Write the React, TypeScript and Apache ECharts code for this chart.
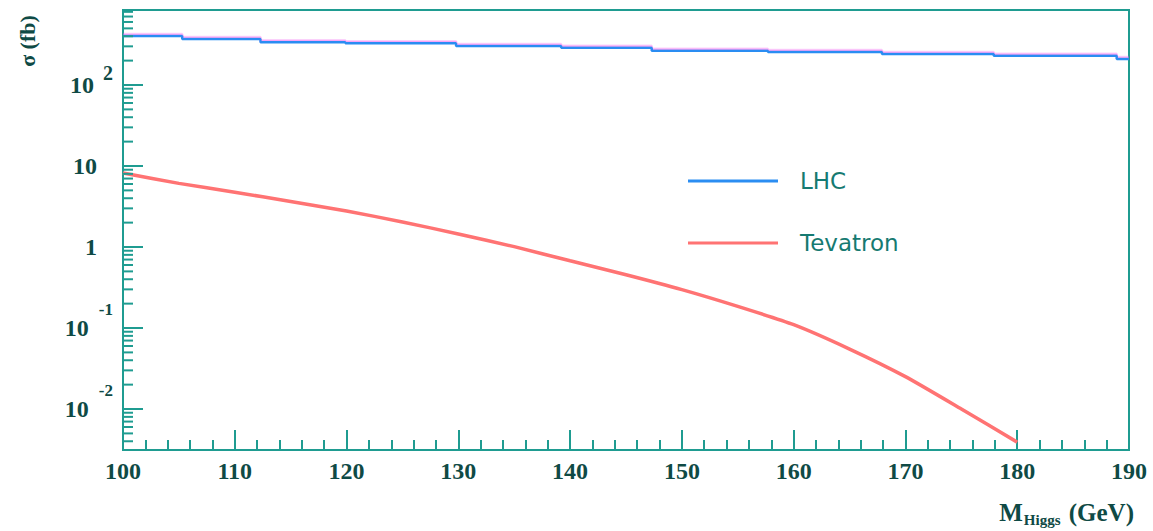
import React, { useEffect, useRef } from "react";
import * as echarts from "echarts";

// ---- data ----
const lhcMass = [100, 105.3, 112.3, 119.9, 129.8, 139.2, 147.3, 157.7, 167.9, 177.9, 188.9, 190];
const lhcSigma = [403, 370, 336, 327, 303, 289, 265, 255, 241, 230, 209, 209];

const tevMass = [100, 105, 110, 115, 120, 125, 130, 135, 140, 145, 150, 155, 160, 165, 170, 175, 180];
const tevSigma = [8.2, 6.1, 4.75, 3.65, 2.78, 2.04, 1.45, 1.01, 0.676, 0.455, 0.298, 0.185, 0.11, 0.055, 0.0251, 0.01, 0.0039];

const yMajorTicks = [0.01, 0.1, 1, 10, 100];
const yMinorTicks = [
  0.004, 0.005, 0.006, 0.007, 0.008, 0.009,
  0.02, 0.03, 0.04, 0.05, 0.06, 0.07, 0.08, 0.09,
  0.2, 0.3, 0.4, 0.5, 0.6, 0.7, 0.8, 0.9,
  2, 3, 4, 5, 6, 7, 8, 9,
  20, 30, 40, 50, 60, 70, 80, 90,
  200, 300, 400, 500, 600, 700, 800,
];

const seriesNames = ["LHC", "Tevatron"];
const xName = ["M", "Higgs", " (GeV)"];
const yName = "σ (fb)";

const TEAL = "#1f9c91";
const DARK = "#0f4a45";
const SERIF = "'Liberation Serif', 'Times New Roman', serif";
const SANS = "'DejaVu Sans', sans-serif";

function tickSeries(name: string, values: number[], len: number) {
  return {
    type: "custom",
    name,
    silent: true,
    clip: false,
    z: 4,
    data: values.map((v) => [100, v]),
    renderItem: (_params: any, api: any) => {
      const p = api.coord([api.value(0), api.value(1)]);
      return {
        type: "line",
        shape: { x1: p[0], y1: p[1], x2: p[0] + len, y2: p[1] },
        style: { stroke: TEAL, lineWidth: 2 },
      };
    },
  };
}

export default function App() {
  const ref = useRef<HTMLDivElement>(null);
  useEffect(() => {
    if (!ref.current) return;
    const chart = echarts.init(ref.current, undefined, { renderer: "svg" });
    const labelBase = { fontSize: 24, fontWeight: "bold", fontFamily: SERIF, color: DARK };
    chart.setOption({
      animation: false,
      backgroundColor: "#ffffff",
      grid: {
        left: 123,
        right: 24,
        top: 10,
        bottom: 81,
        show: true,
        borderColor: TEAL,
        borderWidth: 2,
        backgroundColor: "transparent",
      },
      legend: {
        data: seriesNames,
        orient: "vertical",
        left: 683,
        top: 161,
        icon: "rect",
        itemWidth: 90,
        itemHeight: 3,
        itemGap: 32,
        textStyle: {
          fontFamily: SANS,
          fontSize: 23,
          color: "#167a71",
          lineHeight: 30,
          padding: [0, 0, 0, 17],
        },
      },
      xAxis: {
        type: "value",
        min: 100,
        max: 190,
        interval: 10,
        axisLine: { show: true, lineStyle: { color: TEAL, width: 2 } },
        axisTick: { show: true, inside: true, length: 20, lineStyle: { color: TEAL, width: 2 } },
        minorTick: { show: true, splitNumber: 5, length: 10, lineStyle: { color: TEAL, width: 2 } },
        splitLine: { show: false },
        minorSplitLine: { show: false },
        axisLabel: { ...labelBase, margin: 9 },
      },
      yAxis: {
        type: "log",
        logBase: 10,
        min: 0.00312,
        max: 843,
        axisLine: { show: true, lineStyle: { color: TEAL, width: 2 } },
        axisTick: { show: false },
        splitLine: { show: false },
        axisLabel: {
          margin: 10,
          showMinLabel: false,
          showMaxLabel: false,
          formatter: (v: number) => {
            const lg = Math.log10(v);
            const e = Math.round(lg);
            if (Math.abs(lg - e) > 1e-6) return "";
            if (e === 0) return "{b|1}{pad| }";
            if (e === 1) return "{b|10}{pad| }";
            if (e > 1) return `{b2|10}{e2|${e}}`;
            return `{b3|10}{e3|${e}}`;
          },
          rich: {
            b: { ...labelBase, lineHeight: 30 },
            pad: { width: 16, fontSize: 10 },
            b2: { ...labelBase, lineHeight: 44 },
            e2: { ...labelBase, fontSize: 20, lineHeight: 20, verticalAlign: "top", padding: [0, 0, 0, 9] },
            b3: { ...labelBase, lineHeight: 54 },
            e3: { ...labelBase, fontSize: 17, lineHeight: 18, verticalAlign: "top", padding: [0, 0, 0, 10] },
          },
        },
      },
      series: [
        {
          name: seriesNames[0],
          type: "line",
          step: "end",
          symbol: "none",
          data: lhcMass.map((m, i) => [m, lhcSigma[i]]),
          lineStyle: {
            color: "#2b8df2",
            width: 2.5,
            shadowColor: "rgba(240,90,240,0.55)",
            shadowOffsetY: -1.5,
            shadowBlur: 1,
          },
          itemStyle: { color: "#2b8df2" },
          z: 3,
        },
        {
          name: seriesNames[1],
          type: "line",
          symbol: "none",
          smooth: 0.2,
          data: tevMass.map((m, i) => [m, tevSigma[i]]),
          lineStyle: { color: "#ff7373", width: 3.5 },
          itemStyle: { color: "#ff7373" },
          z: 3,
        },
        tickSeries("majorTicks", yMajorTicks, 20),
        tickSeries("minorTicks", yMinorTicks, 10),
      ],
      graphic: [
        {
          type: "text",
          x: 27,
          y: 41,
          rotation: Math.PI / 2,
          style: {
            text: yName,
            align: "center",
            verticalAlign: "middle",
            fontSize: 22,
            fontWeight: "bold",
            fontFamily: SERIF,
            fill: DARK,
          },
        },
        {
          type: "text",
          x: 1134,
          y: 512,
          style: {
            text: `{m|${xName[0]}}{s|${xName[1]}}{g|${xName[2]}}`,
            align: "right",
            verticalAlign: "middle",
            fill: DARK,
            rich: {
              m: { fontSize: 25, fontWeight: "bold", fontFamily: SERIF, fill: DARK, lineHeight: 30 },
              s: { fontSize: 15, fontWeight: "bold", fontFamily: SERIF, fill: DARK, lineHeight: 15, verticalAlign: "bottom", padding: [0, 2, 0, 1] },
              g: { fontSize: 25, fontWeight: "bold", fontFamily: SERIF, fill: DARK, lineHeight: 30 },
            },
          },
        },
      ],
    });
    return () => chart.dispose();
  }, []);
  return (
    <div
      ref={ref}
      style={{ position: "fixed", left: 0, top: 0, width: 1153, height: 531 }}
    />
  );
}
